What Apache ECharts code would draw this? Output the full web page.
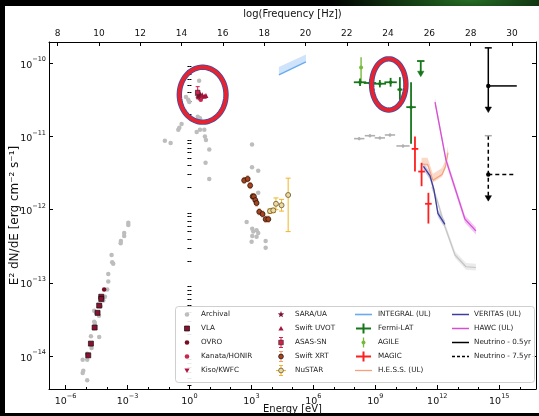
<!DOCTYPE html>
<html><head><meta charset="utf-8">
<script src="https://cdn.jsdelivr.net/npm/echarts@6/dist/echarts.min.js"></script>
<style>
html,body{margin:0;padding:0;background:#000;}
#wrap{position:relative;width:539px;height:416px;overflow:hidden;background:radial-gradient(ellipse 140px 30px at 470px 0px, rgba(40,120,40,0.9), rgba(0,0,0,0) 100%), #000;}
#paper{position:absolute;left:5px;top:6px;width:534px;height:407px;background:#fff;}
#chart{position:absolute;left:0;top:0;width:539px;height:416px;}
</style></head>
<body><div id="wrap"><div id="paper"></div><div id="chart"></div></div>
<script>
// ---- data (log10 E [eV], log10 E^2 dN/dE [erg cm^-2 s^-1]) ----
const xMajorTicks = [-6, -3, 0, 3, 6, 9, 12, 15];
const yMajorTicks = [-14, -13, -12, -11, -10];
const nuTicks = [8, 10, 12, 14, 16, 18, 20, 22, 24, 26, 28, 30];
const archival = [
 [-2.96,-12.18],[-2.96,-12.21],[-3.16,-12.32],[-3.16,-12.36],[-3.32,-12.43],[-3.33,-12.46],[-3.77,-12.62],[-3.74,-12.72],[-3.69,-12.74],[-3.93,-12.88],[-3.93,-12.98],[-3.98,-13.09],[-4.09,-13.19],[-4.17,-13.24],[-4.30,-13.32],[-4.61,-13.38],[-4.53,-13.40],[-4.38,-13.45],[-4.61,-13.53],[-4.58,-13.55],[-4.61,-13.62],[-4.77,-13.73],[-4.37,-13.74],[-4.74,-13.89],[-4.95,-13.97],[-5.17,-14.05],[-4.95,-14.05],[-5.14,-14.20],[-5.17,-14.23],[-4.95,-14.33],
 [0.47,-10.24],[-0.17,-10.46],[-0.06,-10.50],[-0.01,-10.53],[0.40,-10.73],[0.51,-10.75],[0.59,-10.80],[-0.38,-10.83],[-0.49,-10.88],[-0.54,-10.91],[0.35,-10.94],[0.51,-10.91],[0.72,-10.91],[0.75,-11.00],[0.80,-11.05],[-1.19,-11.06],[-0.91,-11.09],[0.96,-11.18],[0.78,-11.36],[0.96,-11.58],
 [3.03,-11.11],[3.03,-11.42],[3.33,-11.47],[3.33,-11.77],[2.77,-12.17],[3.04,-12.26],[3.09,-12.30],[3.25,-12.28],[3.33,-12.32],[3.25,-12.37],[3.04,-12.36],[3.69,-12.43],[3.01,-12.44],[3.69,-12.52]
];
// x, y, xlo, xhi, ylo, yhi
const archivalGamma = [[8.22,-11.03,7.97,8.47,-11.05,-11.01],[8.74,-10.99,8.49,8.99,-11.01,-10.97],[9.22,-11.02,8.97,9.47,-11.04,-11.00],[9.71,-10.98,9.46,9.96,-11.00,-10.96],[10.34,-11.13,10.02,10.66,-11.15,-11.11]];
const vla = [[-4.27,-13.19],[-4.27,-13.22],[-4.37,-13.31],[-4.45,-13.41],[-4.59,-13.61],[-4.77,-13.83],[-4.90,-13.99]];
const ovro = [[-4.13,-13.09]];
const kanata = [[0.48,-10.48],[0.55,-10.50],[0.60,-10.46]];
const kiso = [[0.52,-10.42]];
const sara = [[0.42,-10.45],[0.47,-10.43]];
const uvot = [[0.62,-10.43],[0.72,-10.45],[0.80,-10.44]];
const asassn = [[0.40,-10.40,null,null,-10.47,-10.32]];
const swiftXrt = [[2.65,-11.60,null,null,-11.64,-11.56],[2.82,-11.58,null,null,-11.62,-11.54],[2.94,-11.67,null,null,-11.71,-11.63],[3.06,-11.82,null,null,-11.86,-11.78],[3.12,-11.82,null,null,-11.86,-11.78],[3.19,-11.87,null,null,-11.91,-11.83],[3.25,-11.91,null,null,-11.95,-11.87],[3.38,-12.03,null,null,-12.07,-11.99],[3.54,-12.06,null,null,-12.10,-12.02],[3.69,-12.13,null,null,-12.17,-12.09],[3.82,-12.13,null,null,-12.17,-12.09]];
const nustar = [[3.90,-12.02,3.86,3.94,-12.05,-11.99],[4.06,-12.01,4.02,4.10,-12.04,-11.98],[4.19,-11.92,4.13,4.25,-12.00,-11.84],[4.46,-11.94,4.36,4.56,-12.02,-11.86],[4.78,-11.80,4.65,4.91,-12.30,-11.57]];
const integralX = [4.33, 5.64];
const integralY = [-10.16, -9.98];
const integralHi = [-10.05, -9.88];
const fermi = [[8.26,-10.26,7.96,8.56,-10.31,-10.21],[8.74,-10.27,8.44,9.04,-10.32,-10.22],[9.22,-10.28,8.92,9.52,-10.33,-10.23],[9.74,-10.26,9.44,10.04,-10.32,-10.20],[10.19,-10.36,10.07,10.31,-10.50,-10.19],[10.73,-10.60,10.50,10.96,-11.10,-10.26]];
const fermiUL = [[11.20,-9.97,11.02,11.38,-10.17]];
const agile = [[8.31,-10.06,null,null,-10.26,-9.92]];
const magic = [[10.92,-11.17,10.76,11.08,-11.48,-11.00],[11.24,-11.48,11.08,11.40,-11.68,-11.36],[11.57,-11.92,11.41,11.73,-12.19,-11.77]];
const hessX = [11.24, 11.53, 11.79, 12.23, 12.40, 12.52];
const hessY = [-11.38, -11.38, -11.60, -11.52, -11.41, -11.22];
const veritasX = [11.33, 11.65, 11.84, 12.03, 12.37];
const veritasY = [-11.41, -11.54, -11.73, -12.05, -12.20];
const hawcX = [11.89, 12.42, 13.34, 13.87];
const hawcY = [-10.53, -11.32, -12.13, -12.29];
const grayX = [11.74, 11.99, 12.37, 12.86, 13.39, 13.87];
const grayY = [-11.69, -11.87, -12.23, -12.62, -12.78, -12.79];
// x, y, ytop(cap), ybottom(arrow), xright
const neutrino05 = [[14.47, -10.31, -9.79, -10.66, 15.85]];
const neutrino75 = [[14.47, -11.52, -10.99, -11.87, 15.73]];
// highlight ellipses: cx, cy, rx, ry (log units)
const ellipses = [[0.64, -10.43, 1.13, 0.375], [9.65, -10.29, 0.83, 0.35]];

// ---- layout ----
const X_MIN = -6.8, X_MAX = 16.78, Y_MIN = -14.45, Y_MAX = -9.71, NU_OFF = 14.383;
const FONT = "'DejaVu Sans', sans-serif";
const minus = v => (v < 0 ? '\u2212' + (-v) : '' + v);
const supRich = {
  b: {fontSize: 9.5, fontFamily: FONT, color: '#111', verticalAlign: 'bottom', lineHeight: 14},
  s: {fontSize: 6.5, fontFamily: FONT, color: '#111', verticalAlign: 'top', lineHeight: 14}
};
const xMinor = [], yMinor = [];
for (let n = -7; n <= 17; n++) if (!xMajorTicks.includes(n) && n > X_MIN && n < X_MAX) xMinor.push(n);
for (let n = -15; n <= -9; n++) for (let k = 2; k <= 9; k++) { const v = n + Math.log10(k); if (v > Y_MIN && v < Y_MAX) yMinor.push(v); }

const tickLine = {color: '#000', width: 1};
function xAx(extra) { return Object.assign({type: 'value', min: X_MIN, max: X_MAX, splitLine: {show: false}, axisLine: {show: false}, axisLabel: {show: false}, axisTick: {show: false}, nameMoveOverlap: false}, extra); }
function yAx(extra) { return Object.assign({type: 'value', min: Y_MIN, max: Y_MAX, splitLine: {show: false}, axisLine: {show: false}, axisLabel: {show: false}, axisTick: {show: false}, nameMoveOverlap: false}, extra); }

const xAxis = [
  xAx({position: 'bottom', axisLine: {show: true, onZero: false, lineStyle: tickLine},
    axisTick: {show: true, inside: true, length: 4, lineStyle: tickLine, customValues: xMajorTicks},
    axisLabel: {show: true, margin: 4, customValues: xMajorTicks, formatter: v => '{b|10}{s|' + minus(v) + '}', rich: supRich},
    name: 'Energy [eV]', nameLocation: 'middle', nameGap: 15, nameTextStyle: {fontFamily: FONT, fontSize: 10, color: '#111'}}),
  Object.assign(xAx({position: 'top', axisLine: {show: true, onZero: false, lineStyle: tickLine},
    axisTick: {show: true, inside: true, length: 4, lineStyle: tickLine, customValues: nuTicks},
    axisLabel: {show: true, margin: 4, customValues: nuTicks, fontFamily: FONT, fontSize: 9, color: '#111'},
    name: 'log(Frequency [Hz])', nameLocation: 'middle', nameGap: 23, nameTextStyle: {fontFamily: FONT, fontSize: 10, color: '#111'}}), {min: X_MIN + NU_OFF, max: X_MAX + NU_OFF}),
  xAx({position: 'bottom', axisTick: {show: true, inside: true, length: 2, lineStyle: tickLine, customValues: xMinor}})
];
const yAxis = [
  yAx({position: 'left', axisLine: {show: true, onZero: false, lineStyle: tickLine},
    axisTick: {show: true, inside: true, length: 4, lineStyle: tickLine, customValues: yMajorTicks},
    axisLabel: {show: true, margin: 3, customValues: yMajorTicks, formatter: v => '{b|10}{s|' + minus(v) + '}', rich: supRich},
    name: 'E\u00B2 dN/dE [erg cm\u207B\u00B2 s\u207B\u00B9]', nameLocation: 'middle', nameGap: 28, nameRotate: 90,
    nameTextStyle: {fontFamily: FONT, fontSize: 12, color: '#111'}}),
  yAx({position: 'left', axisTick: {show: true, inside: true, length: 2, lineStyle: tickLine, customValues: yMinor}}),
  yAx({position: 'right', axisLine: {show: true, onZero: false, lineStyle: tickLine},
    axisTick: {show: true, inside: true, length: 4, lineStyle: tickLine, customValues: yMajorTicks}}),
  yAx({position: 'right', axisTick: {show: true, inside: true, length: 2, lineStyle: tickLine, customValues: yMinor}})
];

// ---- series helpers ----
function scatter(name, pts, symbol, size, color, border, z) {
  return {type: 'scatter', name, xAxisIndex: 0, yAxisIndex: 0, symbol, symbolSize: size, z: z || 4, silent: true,
    itemStyle: {color, opacity: 1, borderColor: border || color, borderWidth: border ? 0.7 : 0},
    data: pts.map(p => [p[0], p[1]])};
}
function errBars(name, pts, color, lw, cap, z) {
  return {type: 'custom', name, xAxisIndex: 0, yAxisIndex: 0, z: z || 3, silent: true,
    data: pts.map(p => [p[0], p[1]]),
    renderItem: function (params, api) {
      const p = pts[params.dataIndex];
      const ch = [];
      const st = {stroke: color, lineWidth: lw};
      if (p[2] != null) {
        const a = api.coord([p[2], p[1]]), b = api.coord([p[3], p[1]]);
        ch.push({type: 'line', shape: {x1: a[0], y1: a[1], x2: b[0], y2: b[1]}, style: st});
      }
      if (p[4] != null) {
        const a = api.coord([p[0], p[4]]), b = api.coord([p[0], p[5]]);
        ch.push({type: 'line', shape: {x1: a[0], y1: a[1], x2: b[0], y2: b[1]}, style: st});
        if (cap) {
          ch.push({type: 'line', shape: {x1: a[0] - cap, y1: a[1], x2: a[0] + cap, y2: a[1]}, style: st});
          ch.push({type: 'line', shape: {x1: b[0] - cap, y1: b[1], x2: b[0] + cap, y2: b[1]}, style: st});
        }
      }
      return {type: 'group', children: ch};
    }};
}
function lineSeries(name, xs, ys, color, w, z) {
  return {type: 'line', name, xAxisIndex: 0, yAxisIndex: 0, symbol: 'none', z: z || 3, silent: true,
    lineStyle: {color, width: w}, data: xs.map((x, i) => [x, ys[i]])};
}
function band(name, xs, lo, hi, color, z) {
  return {type: 'custom', name, xAxisIndex: 0, yAxisIndex: 0, z: z || 2, silent: true,
    data: xs.map((x, i) => [x, lo[i]]),
    renderItem: function (params, api) {
      if (params.dataIndex !== 0) return null;
      const pts = [];
      xs.forEach((x, i) => pts.push(api.coord([x, hi[i]])));
      for (let i = xs.length - 1; i >= 0; i--) pts.push(api.coord([xs[i], lo[i]]));
      return {type: 'polygon', shape: {points: pts}, style: {fill: color, stroke: null}};
    }};
}
const add = (arr, d) => arr.map(v => v + d);
function arrowHead(x, y, color) {
  return {type: 'polygon', shape: {points: [[x - 3.2, y - 4.5], [x + 3.2, y - 4.5], [x, y + 1]]}, style: {fill: color, stroke: color, lineWidth: 0.5}};
}
function ulSeries(name, pts, color, lw) {
  return {type: 'custom', name, xAxisIndex: 0, yAxisIndex: 0, z: 4, silent: true,
    data: pts.map(p => [p[0], p[1]]),
    renderItem: function (params, api) {
      const p = pts[params.dataIndex];
      const c = api.coord([p[0], p[1]]), a = api.coord([p[2], p[1]]), b = api.coord([p[3], p[1]]), d = api.coord([p[0], p[4]]);
      const st = {stroke: color, lineWidth: lw};
      return {type: 'group', children: [
        {type: 'line', shape: {x1: a[0], y1: a[1], x2: b[0], y2: b[1]}, style: st},
        {type: 'line', shape: {x1: c[0], y1: c[1], x2: d[0], y2: d[1] - 3}, style: st},
        arrowHead(d[0], d[1], color)]};
    }};
}
function neutrino(name, pts, dashed) {
  return {type: 'custom', name, xAxisIndex: 0, yAxisIndex: 0, z: 4, silent: true,
    data: pts.map(p => [p[0], p[1]]),
    renderItem: function (params, api) {
      const p = pts[params.dataIndex];
      const c = api.coord([p[0], p[1]]), t = api.coord([p[0], p[2]]), b = api.coord([p[0], p[3]]), r = api.coord([p[4], p[1]]);
      const st = {stroke: '#000', lineWidth: 1.5, lineDash: dashed ? [4, 3] : null};
      const capColor = dashed ? '#aaaaaa' : '#000';
      return {type: 'group', children: [
        {type: 'line', shape: {x1: t[0], y1: t[1], x2: b[0], y2: b[1] - 3}, style: st},
        {type: 'line', shape: {x1: t[0] - 3.5, y1: t[1], x2: t[0] + 3.5, y2: t[1]}, style: {stroke: capColor, lineWidth: 1.5}},
        {type: 'line', shape: {x1: c[0], y1: c[1], x2: r[0], y2: r[1]}, style: st},
        {type: 'circle', shape: {cx: c[0], cy: c[1], r: 2.2}, style: {fill: '#000'}},
        arrowHead(b[0], b[1], '#000')]};
    }};
}
const ellipseSeries = {type: 'custom', name: 'highlight', xAxisIndex: 0, yAxisIndex: 0, z: 20, silent: true,
  data: ellipses.map(e => [e[0], e[1]]),
  renderItem: function (params, api) {
    const e = ellipses[params.dataIndex];
    const pts = [];
    for (let i = 0; i < 90; i++) { const t = i / 90 * 2 * Math.PI; pts.push(api.coord([e[0] + e[2] * Math.cos(t), e[1] + e[3] * Math.sin(t)])); }
    return {type: 'group', children: [
      {type: 'polygon', shape: {points: pts}, style: {fill: null, stroke: '#3a4fb0', lineWidth: 5.4}},
      {type: 'polygon', shape: {points: pts}, style: {fill: null, stroke: '#e8232e', lineWidth: 3.8}}]};
  }};

const C = {gray: '#bdbdbd', vla: '#8e1030', ovro: '#7a0c22', kanata: '#c8284d', kiso: '#b3123f', sara: '#7c1232', uvot: '#a4143a', asas: '#d81e4a',
  xrt: '#a8421c', xrtErr: '#f29a70', nus: '#ead9a4', nusErr: '#f1b428', integral: '#6aaaf0', integralBand: '#cfe3fa', fermi: '#16761a', agile: '#78b83a',
  magic: '#ff1f1f', hess: '#f4a27c', hessBand: '#fbd9c8', veritas: '#3d3d9c', veritasBand: '#cccce8', hawc: '#d44fd4', hawcBand: '#f2c6f2', vhe: '#c4c4c4', vheBand: '#ebebeb'};

const series = [
  scatter('Archival', archival, 'circle', 4.5, C.gray, null, 2),
  errBars('Archival gamma', archivalGamma, '#b0b0b0', 1.6, 0, 2),
  scatter('Archival gamma pts', archivalGamma, 'circle', 3, '#b0b0b0', null, 2),
  band('gray band', grayX, add(grayY, -0.04), add(grayY, 0.05), C.vheBand, 1),
  lineSeries('gray', grayX, grayY, C.vhe, 1.2, 2),
  scatter('VLA', vla, 'rect', 5, C.vla, '#111', 5),
  scatter('OVRO', ovro, 'circle', 4.5, C.ovro, null, 5),
  scatter('Kanata/HONIR', kanata, 'circle', 4.5, C.kanata, null, 5),
  scatter('Kiso/KWFC', kiso, 'triangle', 5, C.kiso, null, 5),
  scatter('SARA/UA', sara, 'path://M0,-10 L2.35,-3.24 L9.51,-3.09 L3.8,1.24 L5.88,8.09 L0,4 L-5.88,8.09 L-3.8,1.24 L-9.51,-3.09 L-2.35,-3.24 Z', 7, C.sara, null, 5),
  scatter('Swift UVOT', uvot, 'triangle', 5, C.uvot, null, 5),
  errBars('ASAS-SN err', asassn, C.asas, 1, 2, 5),
  scatter('ASAS-SN', asassn, 'rect', 4.5, C.asas, '#222', 6),
  errBars('Swift XRT err', swiftXrt, C.xrtErr, 1, 1.5, 4),
  scatter('Swift XRT', swiftXrt, 'circle', 5, C.xrt, '#111', 5),
  errBars('NuSTAR err', nustar, C.nusErr, 1, 2.5, 4),
  scatter('NuSTAR', nustar, 'circle', 5, C.nus, '#5a4512', 5),
  band('INTEGRAL band', integralX, integralY, integralHi, C.integralBand, 2),
  lineSeries('INTEGRAL (UL)', integralX, integralY, C.integral, 1.4, 3),
  errBars('Fermi-LAT', fermi, C.fermi, 1.8, 0, 6),
  scatter('Fermi-LAT pts', fermi, 'circle', 3.5, C.fermi, null, 6),
  ulSeries('Fermi-LAT UL', fermiUL, C.fermi, 1.8),
  errBars('AGILE', agile, C.agile, 1.4, 0, 5),
  scatter('AGILE pts', agile, 'circle', 4, C.agile, null, 5),
  errBars('MAGIC', magic, C.magic, 1.8, 0, 6),
  band('HESS band', hessX, add(hessY, -0.03), add(hessY, 0.09), C.hessBand, 2),
  lineSeries('H.E.S.S. (UL)', hessX, hessY, C.hess, 1.2, 3),
  band('VERITAS band', veritasX, add(veritasY, -0.05), add(veritasY, 0.05), C.veritasBand, 2),
  lineSeries('VERITAS (UL)', veritasX, veritasY, C.veritas, 1.3, 3),
  band('HAWC band', hawcX, add(hawcY, -0.05), add(hawcY, 0.05), C.hawcBand, 2),
  lineSeries('HAWC (UL)', hawcX, hawcY, C.hawc, 1.3, 3),
  neutrino('Neutrino - 0.5yr', neutrino05, false),
  neutrino('Neutrino - 7.5yr', neutrino75, true),
  ellipseSeries
];

// ---- legend (drawn) ----
const rows = [314.5, 328.5, 342.5, 356.5, 370.5];
const g = [];
const LZ = 100;
g.push({type: 'rect', z: LZ, shape: {x: 175.5, y: 306.5, width: 359, height: 76, r: 3}, style: {fill: 'rgba(255,255,255,0.9)', stroke: '#cfcfcf', lineWidth: 1}});
function txt(x, y, s) { g.push({type: 'text', z: LZ + 1, x, y, style: {text: s, font: "7.2px 'DejaVu Sans', sans-serif", fill: '#222', align: 'left', verticalAlign: 'middle'}}); }
function circ(x, y, r, fill, stroke) { g.push({type: 'circle', z: LZ + 1, shape: {cx: x, cy: y, r}, style: {fill, stroke: stroke || null, lineWidth: 0.7}}); }
function seg(x1, y1, x2, y2, color, w, dash) { g.push({type: 'line', z: LZ + 1, shape: {x1, y1, x2, y2}, style: {stroke: color, lineWidth: w, lineDash: dash || null}}); }
function poly(points, fill) { g.push({type: 'polygon', z: LZ + 1, shape: {points}, style: {fill}}); }
const c1 = 187, t1 = 201, c2 = 281, t2 = 295, l3a = 355, l3b = 372, t3 = 378, l4a = 452, l4b = 469, t4 = 474;
circ(c1, rows[0], 2.3, C.gray); txt(t1, rows[0], 'Archival');
g.push({type: 'rect', z: LZ + 1, shape: {x: c1 - 2.5, y: rows[1] - 2.5, width: 5, height: 5}, style: {fill: C.vla, stroke: '#111', lineWidth: 0.7}}); txt(t1, rows[1], 'VLA');
circ(c1, rows[2], 2.3, C.ovro); txt(t1, rows[2], 'OVRO');
circ(c1, rows[3], 2.3, C.kanata); txt(t1, rows[3], 'Kanata/HONIR');
poly([[c1 - 2.6, rows[4] - 2], [c1 + 2.6, rows[4] - 2], [c1, rows[4] + 2.5]], C.kiso); txt(t1, rows[4], 'Kiso/KWFC');
(function () { const pts = []; for (let i = 0; i < 10; i++) { const r = i % 2 ? 1.4 : 3.4, a = -Math.PI / 2 + i * Math.PI / 5; pts.push([c2 + r * Math.cos(a), rows[0] + r * Math.sin(a)]); } poly(pts, C.sara); })();
txt(t2, rows[0], 'SARA/UA');
poly([[c2 - 2.6, rows[1] + 2], [c2 + 2.6, rows[1] + 2], [c2, rows[1] - 2.5]], C.uvot); txt(t2, rows[1], 'Swift UVOT');
seg(c2, rows[2] - 5, c2, rows[2] + 5, C.asas, 1); seg(c2 - 2, rows[2] - 5, c2 + 2, rows[2] - 5, C.asas, 1); seg(c2 - 2, rows[2] + 5, c2 + 2, rows[2] + 5, C.asas, 1);
g.push({type: 'rect', z: LZ + 2, shape: {x: c2 - 2.3, y: rows[2] - 2.3, width: 4.6, height: 4.6}, style: {fill: C.asas, stroke: '#222', lineWidth: 0.6}}); txt(t2, rows[2], 'ASAS-SN');
seg(c2, rows[3] - 5, c2, rows[3] + 5, C.xrtErr, 1); seg(c2 - 2, rows[3] - 5, c2 + 2, rows[3] - 5, C.xrtErr, 1); seg(c2 - 2, rows[3] + 5, c2 + 2, rows[3] + 5, C.xrtErr, 1);
circ(c2, rows[3], 2.4, C.xrt, '#111'); txt(t2, rows[3], 'Swift XRT');
seg(c2, rows[4] - 5, c2, rows[4] + 5, C.nusErr, 1); seg(c2 - 5, rows[4], c2 + 5, rows[4], C.nusErr, 1); seg(c2 - 2, rows[4] - 5, c2 + 2, rows[4] - 5, C.nusErr, 1); seg(c2 - 2, rows[4] + 5, c2 + 2, rows[4] + 5, C.nusErr, 1);
circ(c2, rows[4], 2.4, C.nus, '#5a4512'); txt(t2, rows[4], 'NuSTAR');
const m3 = (l3a + l3b) / 2;
seg(l3a, rows[0], l3b, rows[0], C.integral, 1.6); txt(t3, rows[0], 'INTEGRAL (UL)');
seg(l3a + 1, rows[1], l3b - 1, rows[1], C.fermi, 2); seg(m3, rows[1] - 5, m3, rows[1] + 5, C.fermi, 2); txt(t3, rows[1], 'Fermi-LAT');
seg(m3, rows[2] - 5, m3, rows[2] + 5, C.agile, 1.3); circ(m3, rows[2], 2, C.agile); txt(t3, rows[2], 'AGILE');
seg(l3a + 1, rows[3], l3b - 1, rows[3], C.magic, 2); seg(m3, rows[3] - 5, m3, rows[3] + 5, C.magic, 2); txt(t3, rows[3], 'MAGIC');
seg(l3a, rows[4], l3b, rows[4], C.hess, 1.3); txt(t3, rows[4], 'H.E.S.S. (UL)');
seg(l4a, rows[0], l4b, rows[0], C.veritas, 1.5); txt(t4, rows[0], 'VERITAS (UL)');
seg(l4a, rows[1], l4b, rows[1], C.hawc, 1.5); txt(t4, rows[1], 'HAWC (UL)');
seg(l4a, rows[2], l4b, rows[2], '#000', 1.5); txt(t4, rows[2], 'Neutrino - 0.5yr');
seg(l4a, rows[3], l4b, rows[3], '#000', 1.3, [3, 2]); txt(t4, rows[3], 'Neutrino - 7.5yr');

const chart = echarts.init(document.getElementById('chart'), null, {renderer: 'canvas'});
chart.setOption({
  backgroundColor: 'transparent',
  animation: false,
  grid: {left: 49, right: 3, top: 42, bottom: 27, containLabel: false, outerBoundsMode: 'none'},
  xAxis, yAxis, series,
  graphic: {elements: g}
});
</script></body></html>
